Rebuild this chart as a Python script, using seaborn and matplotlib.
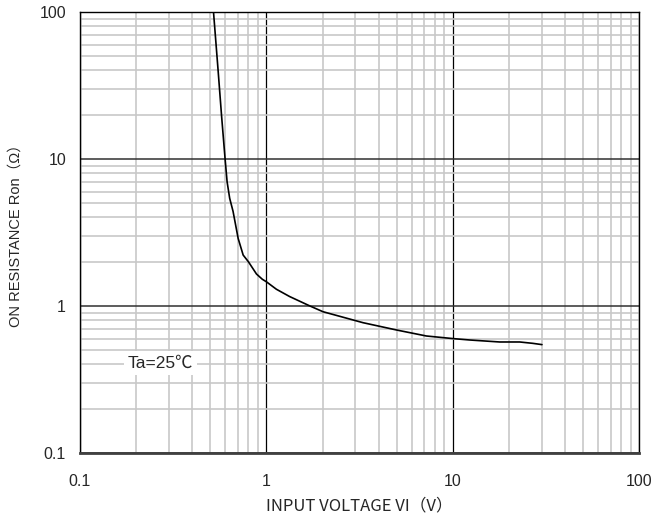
import matplotlib
matplotlib.use("Agg")
import matplotlib.pyplot as plt
import seaborn as sns
import pandas as pd
from matplotlib.ticker import FixedLocator, LogLocator, NullFormatter

# curve (Ta = 25 degC)
vin = [0.52, 0.551, 0.574, 0.60, 0.615, 0.635, 0.662, 0.705, 0.75, 0.80,
       0.884, 0.95, 1.0, 1.13, 1.33, 1.71, 2.01, 3.29, 4.97, 7.2,
       10.0, 12.3, 17.8, 22.8, 26.8, 30.0]
ron = [100, 39.3, 19.9, 10.0, 7.0, 5.4, 4.4, 2.88, 2.22, 2.0,
       1.65, 1.52, 1.46, 1.30, 1.16, 1.0, 0.914, 0.77, 0.687, 0.625,
       0.60, 0.587, 0.569, 0.569, 0.557, 0.546]

x_ticks = [0.1, 1, 10, 100]
x_labels = ["0.1", "1", "10", "100"]
y_ticks = [0.1, 1, 10, 100]
y_labels = ["0.1", "1", "10", "100"]

df = pd.DataFrame({"VI": vin, "Ron": ron})

sns.set_style("white")
plt.rcParams["font.family"] = ["Liberation Sans", "DejaVu Sans"]

fig = plt.figure(figsize=(6.72, 5.19), dpi=100)
ax = fig.add_axes([0.119, 0.1272, 0.8326, 0.8497])

ax.set_xscale("log")
ax.set_yscale("log")
ax.set_xlim(0.1, 100)
ax.set_ylim(0.1, 100)

# grid
ax.xaxis.set_minor_locator(LogLocator(base=10, subs=range(2, 10)))
ax.yaxis.set_minor_locator(LogLocator(base=10, subs=range(2, 10)))
ax.xaxis.set_minor_formatter(NullFormatter())
ax.yaxis.set_minor_formatter(NullFormatter())
ax.grid(which="minor", color="#c8c8c8", linewidth=1.2)
ax.grid(which="major", axis="x", color="black", linewidth=0.9)
ax.grid(which="major", axis="y", color="#303030", linewidth=1.1)
ax.set_axisbelow(True)

sns.lineplot(data=df, x="VI", y="Ron", ax=ax, color="black", linewidth=1.2,
             sort=False, estimator=None)

ax.xaxis.set_major_locator(FixedLocator(x_ticks))
ax.yaxis.set_major_locator(FixedLocator(y_ticks))
ax.set_xticklabels(x_labels, fontsize=11.5)
ax.set_yticklabels(y_labels, fontsize=11.5)
ax.tick_params(which="both", length=0)
ax.tick_params(axis="x", pad=15)
ax.tick_params(axis="y", pad=10)

for side in ["left", "right", "top"]:
    ax.spines[side].set_color("black")
    ax.spines[side].set_linewidth(1.0)
ax.spines["bottom"].set_color("#404040")
ax.spines["bottom"].set_linewidth(2.0)

ax.set_xlabel("INPUT VOLTAGE VI（V）", fontsize=12,
              family=["Noto Sans CJK JP", "DejaVu Sans"], labelpad=6)
ax.set_ylabel("ON RESISTANCE Ron（Ω）", fontsize=10.5,
              family=["Liberation Sans", "Noto Sans CJK JP"], labelpad=12)

ax.text(0.27, 0.41, "Ta=25℃", fontsize=12.5,
        family=["Liberation Sans", "Noto Sans CJK JP"],
        ha="center", va="center", transform=ax.transData,
        bbox=dict(facecolor="white", edgecolor="none", pad=3))

fig.savefig("out.png", dpi=100)
